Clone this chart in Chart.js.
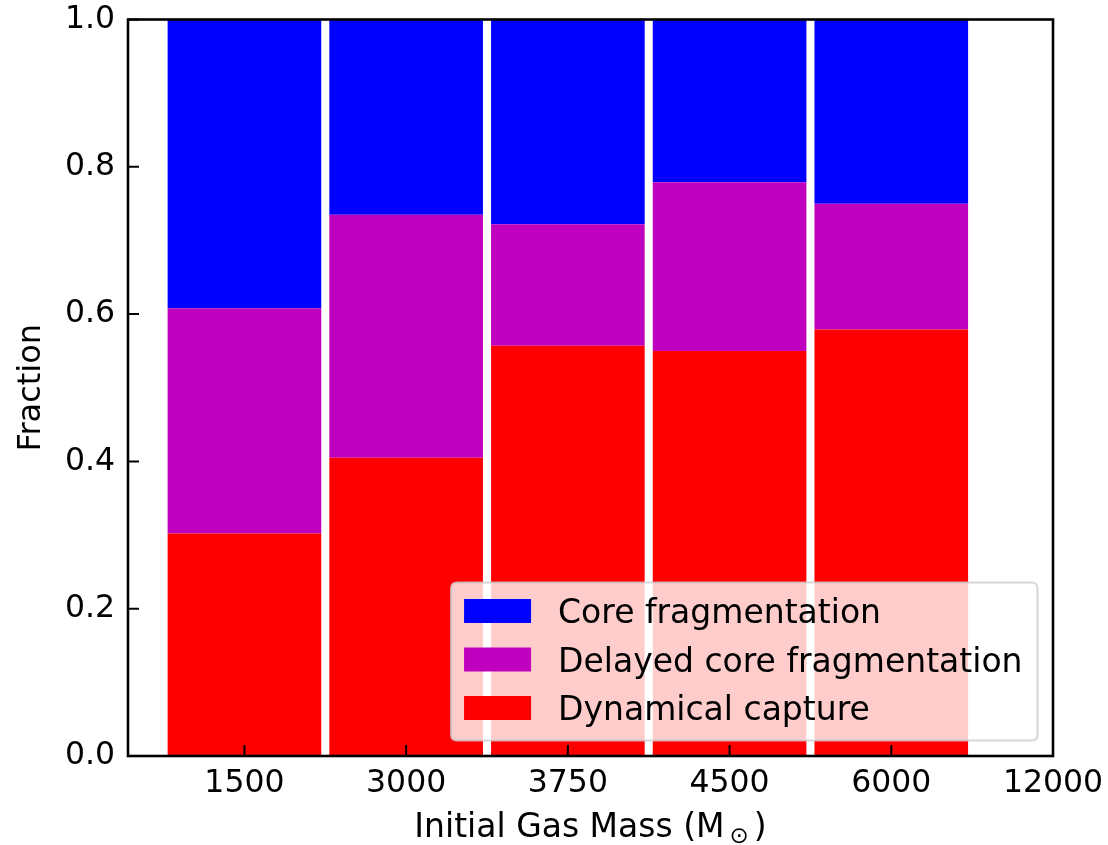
<!DOCTYPE html>
<html>
<head>
<meta charset="utf-8">
<title>Fraction by initial gas mass</title>
<script src="https://cdn.jsdelivr.net/npm/chart.js@4.4.0/dist/chart.umd.min.js"></script>
<style>
  html, body { margin: 0; padding: 0; background: #fff; overflow: hidden; }
  #wrap { width: 1108px; height: 845px; position: relative; }
</style>
</head>
<body>
<div id="wrap"><canvas id="myChart"></canvas></div>
<script>
// x tick labels, the last one (12000) has no bar
const massLabels = ['1500', '3000', '3750', '4500', '6000', '12000'];
const barPositions = [0, 1, 2, 3, 4];

// fractions, bottom to top
const dynamicalCapture = [0.302, 0.405, 0.557, 0.550, 0.579];
const delayedCoreFrag = [0.306, 0.330, 0.165, 0.229, 0.171];
const coreFrag = [0.392, 0.265, 0.278, 0.221, 0.250];

const seriesNames = ['Dynamical capture', 'Delayed core fragmentation', 'Core fragmentation'];
const seriesColors = ['#ff0000', '#bf00bf', '#0000ff'];

const FONT = '"DejaVu Sans", Verdana, sans-serif';

function toPoints(values) {
    return values.map((v, i) => ({x: barPositions[i], y: v}));
}

// keep the plot box where the reference has it, no extra room for edge labels
function noEdgePadding(scale) {
    scale.paddingTop = 0;
    scale.paddingBottom = 0;
    scale.paddingLeft = 0;
    scale.paddingRight = 0;
}

// axes frame, inward ticks, x title with subscript and the legend box
const framePlugin = {
    id: 'frame',
    afterDatasetsDraw(chart) {
        const ctx = chart.ctx;
        const a = chart.chartArea;
        const xs = chart.scales.x;
        const ys = chart.scales.y;
        ctx.save();
        ctx.strokeStyle = '#000';
        ctx.lineWidth = 2;
        ctx.beginPath();
        xs.ticks.forEach(t => {
            const px = xs.getPixelForValue(t.value);
            ctx.moveTo(px, a.bottom);
            ctx.lineTo(px, a.bottom - 11);
        });
        ys.ticks.forEach(t => {
            const py = ys.getPixelForValue(t.value);
            ctx.moveTo(a.left, py);
            ctx.lineTo(a.left + 11, py);
        });
        ctx.stroke();
        ctx.lineWidth = 2.6;
        ctx.strokeRect(a.left, a.top, a.right - a.left, a.bottom - a.top);
        ctx.restore();
    },
    afterDraw(chart) {
        const ctx = chart.ctx;
        const a = chart.chartArea;
        ctx.save();

        // x axis title: Initial Gas Mass (M_sun)
        const mainTxt = 'Initial Gas Mass (M';
        const subTxt = '\u2299';
        const endTxt = ')';
        const gap = 5;
        ctx.font = '33px ' + FONT;
        const w1 = ctx.measureText(mainTxt).width;
        const w3 = ctx.measureText(endTxt).width;
        ctx.font = '23px ' + FONT;
        const w2 = ctx.measureText(subTxt).width;
        const total = w1 + gap + w2 + gap + w3;
        let x0 = (a.left + a.right) / 2 - total / 2;
        const base = 836.5;
        ctx.fillStyle = '#000';
        ctx.textAlign = 'left';
        ctx.textBaseline = 'alphabetic';
        ctx.font = '33px ' + FONT;
        ctx.fillText(mainTxt, x0, base);
        ctx.font = '23px ' + FONT;
        ctx.textBaseline = 'middle';
        ctx.fillText(subTxt, x0 + w1 + gap, base + 1);
        ctx.textBaseline = 'alphabetic';
        ctx.font = '33px ' + FONT;
        ctx.fillText(endTxt, x0 + w1 + gap + w2 + gap, base);

        // legend, lower right inside the axes
        const items = chart.data.datasets.slice().reverse();
        ctx.font = '33px ' + FONT;
        let maxW = 0;
        items.forEach(d => { maxW = Math.max(maxW, ctx.measureText(d.label).width); });
        const boxW = 107 + maxW + 15;
        const boxH = 158;
        const bx = a.right - 15.5 - boxW;
        const by = a.bottom - 15.5 - boxH;
        const r = 6;
        ctx.beginPath();
        ctx.moveTo(bx + r, by);
        ctx.lineTo(bx + boxW - r, by);
        ctx.quadraticCurveTo(bx + boxW, by, bx + boxW, by + r);
        ctx.lineTo(bx + boxW, by + boxH - r);
        ctx.quadraticCurveTo(bx + boxW, by + boxH, bx + boxW - r, by + boxH);
        ctx.lineTo(bx + r, by + boxH);
        ctx.quadraticCurveTo(bx, by + boxH, bx, by + boxH - r);
        ctx.lineTo(bx, by + r);
        ctx.quadraticCurveTo(bx, by, bx + r, by);
        ctx.closePath();
        ctx.fillStyle = 'rgba(255,255,255,0.8)';
        ctx.fill();
        ctx.strokeStyle = 'rgba(204,204,204,0.8)';
        ctx.lineWidth = 2;
        ctx.stroke();

        items.forEach((d, i) => {
            const py = by + 16.5 + i * 48.5;
            ctx.fillStyle = d.backgroundColor;
            ctx.fillRect(bx + 13, py, 67, 24);
            ctx.fillStyle = '#000';
            ctx.textBaseline = 'alphabetic';
            ctx.fillText(d.label, bx + 107, py + 24);
        });
        ctx.restore();
    }
};

const ctx = document.getElementById('myChart').getContext('2d');
const myChart = new Chart(ctx, {
    type: 'bar',
    data: {
        datasets: [
            {label: seriesNames[0], data: toPoints(dynamicalCapture), backgroundColor: seriesColors[0]},
            {label: seriesNames[1], data: toPoints(delayedCoreFrag), backgroundColor: seriesColors[1]},
            {label: seriesNames[2], data: toPoints(coreFrag), backgroundColor: seriesColors[2]}
        ]
    },
    options: {
        responsive: true,
        maintainAspectRatio: false,
        animation: false,
        barPercentage: 0.95,
        categoryPercentage: 1.0,
        borderWidth: 0,
        layout: {padding: {top: 19.5, right: 55, left: 0, bottom: 0}},
        plugins: {
            legend: {display: false},
            tooltip: {enabled: false}
        },
        scales: {
            x: {
                type: 'linear',
                stacked: true,
                offset: false,
                min: -0.72,
                max: 5,
                afterBuildTicks: scale => {
                    scale.ticks = massLabels.map((_, i) => ({value: i}));
                },
                afterFit: scale => {
                    scale.height = 89;
                    noEdgePadding(scale);
                },
                ticks: {
                    autoSkip: false,
                    maxRotation: 0,
                    padding: 9,
                    color: '#000',
                    font: {family: FONT, size: 31.5},
                    callback: value => massLabels[value]
                },
                grid: {display: false, drawTicks: false, offset: false},
                border: {display: false}
            },
            y: {
                stacked: true,
                min: 0,
                max: 1,
                afterBuildTicks: scale => {
                    scale.ticks = [0, 0.2, 0.4, 0.6, 0.8, 1.0].map(v => ({value: v}));
                },
                afterFit: scale => {
                    scale.width = 128;
                    noEdgePadding(scale);
                },
                ticks: {
                    padding: 13,
                    color: '#000',
                    font: {family: FONT, size: 31.5},
                    callback: value => value.toFixed(1)
                },
                title: {
                    display: true,
                    text: 'Fraction',
                    color: '#000',
                    font: {family: FONT, size: 32},
                    padding: {top: 12, bottom: 0}
                },
                grid: {display: false, drawTicks: false},
                border: {display: false}
            }
        }
    },
    plugins: [framePlugin]
});
</script>
</body>
</html>
